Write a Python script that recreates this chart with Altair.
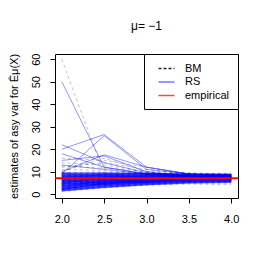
import altair as alt
import pandas as pd

x_vals = [2.0, 2.5, 3.0, 3.5, 4.0]
y_ticks = [0, 10, 20, 30, 40, 50, 60]
series_names = ["BM", "RS", "empirical"]
empirical_value = 7.1

rs_lines = [
    [50.0, 12.0, 9.0, 7.5, 7.0],
    [22.0, 14.0, 9.5, 8.0, 7.2],
    [20.0, 26.5, 12.0, 9.0, 8.0],
    [18.0, 12.0, 9.0, 8.0, 7.0],
    [9.0, 26.0, 11.0, 9.0, 8.0],
    [10.0, 17.5, 12.0, 9.0, 8.0],
    [15.0, 17.0, 10.0, 8.0, 7.0],
    [13.0, 11.0, 9.0, 8.0, 7.0],
    [1.5, 3.0, 4.2, 5.0, 5.3],
    [2.0, 3.4, 4.5, 5.3, 5.6],
    [2.4, 3.8, 4.8, 5.5, 5.8],
    [2.8, 4.1, 5.0, 5.7, 6.0],
    [3.1, 4.4, 5.3, 5.9, 6.2],
    [3.4, 4.6, 5.5, 6.1, 6.3],
    [3.7, 4.9, 5.7, 6.2, 6.5],
    [4.0, 5.1, 5.9, 6.4, 6.6],
    [4.3, 5.4, 6.1, 6.6, 6.8],
    [4.6, 5.6, 6.3, 6.7, 6.9],
    [4.9, 5.9, 6.5, 6.9, 7.0],
    [5.2, 6.1, 6.7, 7.0, 7.1],
    [5.5, 6.4, 6.9, 7.2, 7.3],
    [5.8, 6.6, 7.1, 7.3, 7.4],
    [6.1, 6.9, 7.3, 7.5, 7.5],
    [6.4, 7.1, 7.5, 7.6, 7.7],
    [6.7, 7.4, 7.7, 7.8, 7.8],
    [7.0, 7.6, 7.9, 7.9, 7.9],
    [7.3, 7.9, 8.1, 8.1, 8.0],
    [7.6, 8.1, 8.3, 8.2, 8.2],
    [7.9, 8.4, 8.5, 8.4, 8.3],
    [8.2, 8.6, 8.7, 8.5, 8.5],
    [8.6, 8.9, 8.9, 8.7, 8.6],
    [9.0, 9.2, 9.1, 8.9, 8.8],
    [9.5, 9.5, 9.3, 9.0, 8.9],
    [2.2, 5.0, 5.2, 6.6, 6.1],
    [3.0, 6.2, 6.0, 5.8, 7.2],
    [5.0, 4.2, 6.8, 6.0, 6.4],
    [6.0, 5.0, 5.6, 7.4, 6.9],
    [8.0, 6.0, 6.4, 6.9, 7.6],
    [4.5, 7.5, 7.0, 7.8, 7.0],
    [2.6, 4.8, 6.6, 7.2, 7.9],
    [7.2, 8.8, 7.2, 6.5, 6.7],
    [9.2, 7.0, 8.2, 8.0, 7.5],
    [1.8, 3.6, 5.4, 6.8, 7.4],
    [1.6, 3.2, 4.4, 5.2, 5.5],
    [2.1, 3.5, 4.6, 5.4, 5.7],
    [2.5, 3.9, 4.9, 5.6, 5.9],
    [2.9, 4.2, 5.1, 5.8, 6.1],
    [3.3, 4.5, 5.4, 6.0, 6.2],
    [3.6, 4.8, 5.6, 6.1, 6.4],
    [3.9, 5.0, 5.8, 6.3, 6.5],
    [4.2, 5.3, 6.0, 6.5, 6.7],
    [4.5, 5.5, 6.2, 6.6, 6.8],
    [4.8, 5.8, 6.4, 6.8, 6.9],
    [5.1, 6.0, 6.6, 6.9, 7.1],
    [5.4, 6.3, 6.8, 7.1, 7.2],
    [5.7, 6.5, 7.0, 7.2, 7.3],
    [6.0, 6.8, 7.2, 7.4, 7.5],
    [6.3, 7.0, 7.4, 7.5, 7.6],
    [6.6, 7.3, 7.6, 7.7, 7.7],
    [6.9, 7.5, 7.8, 7.8, 7.9],
    [7.2, 7.8, 8.0, 8.0, 8.0],
    [7.5, 8.0, 8.2, 8.1, 8.1],
    [7.8, 8.3, 8.4, 8.3, 8.2],
    [8.1, 8.5, 8.6, 8.5, 8.4],
    [8.4, 8.8, 8.8, 8.6, 8.5],
    [8.8, 9.0, 9.0, 8.8, 8.7],
    [9.3, 9.4, 9.2, 9.0, 8.9],
    [1.4, 2.9, 4.1, 4.9, 5.2],
    [3.8, 5.6, 5.0, 6.7, 5.9],
    [6.5, 4.8, 6.2, 6.3, 7.8],
    [8.4, 6.6, 5.8, 7.1, 6.6],
    [5.3, 7.9, 7.6, 6.4, 7.3],
    [9.4, 8.2, 6.8, 8.6, 8.4],
    [2.3, 4.3, 5.9, 7.6, 6.8],
]

bm_lines = [
    [60.0, 9.0, 8.0, 7.0, 6.5],
    [16.0, 15.0, 12.0, 9.0, 8.0],
    [14.0, 13.0, 10.0, 8.0, 7.0],
    [12.0, 14.0, 11.0, 9.0, 8.0],
    [10.0, 16.0, 10.0, 8.0, 7.0],
    [1.2, 2.8, 4.0, 4.5, 4.2],
    [1.8, 3.2, 4.3, 4.9, 4.8],
    [2.3, 3.6, 4.6, 5.2, 5.3],
    [2.7, 4.0, 4.9, 5.5, 5.6],
    [3.2, 4.3, 5.2, 5.8, 5.9],
    [3.6, 4.7, 5.5, 6.0, 6.1],
    [4.0, 5.0, 5.8, 6.2, 6.4],
    [4.4, 5.4, 6.0, 6.5, 6.6],
    [4.8, 5.7, 6.3, 6.7, 6.8],
    [5.2, 6.0, 6.6, 6.9, 7.0],
    [5.6, 6.4, 6.8, 7.1, 7.2],
    [6.0, 6.7, 7.1, 7.3, 7.4],
    [6.4, 7.1, 7.4, 7.5, 7.6],
    [6.8, 7.4, 7.6, 7.7, 7.8],
    [7.2, 7.8, 7.9, 7.9, 8.0],
    [7.6, 8.1, 8.2, 8.1, 8.2],
    [8.0, 8.5, 8.5, 8.3, 8.4],
    [8.5, 8.9, 8.8, 8.6, 8.6],
    [9.0, 9.3, 9.1, 8.9, 8.9],
    [9.6, 9.8, 9.5, 9.3, 9.2],
    [2.0, 5.5, 6.2, 6.0, 7.5],
    [3.5, 6.8, 5.6, 7.2, 6.2],
    [5.5, 4.5, 7.3, 6.4, 7.1],
    [7.5, 5.2, 6.1, 7.6, 5.8],
    [8.8, 6.3, 7.8, 6.8, 8.6],
    [11.0, 10.5, 9.5, 8.8, 8.1],
    [12.5, 11.5, 10.2, 9.5, 8.7],
]


def to_long(lines, name):
    rows = []
    for i, line in enumerate(lines):
        for xv, yv in zip(x_vals, line):
            rows.append({"rep": f"{name}{i}", "x": xv, "value": yv})
    return pd.DataFrame(rows)


rs_df = to_long(rs_lines, "RS")
bm_df = to_long(bm_lines, "BM")
emp_df = pd.DataFrame({"value": [empirical_value]})

FONT = "Liberation Sans"

xscale = alt.Scale(domain=[1.92, 4.08], nice=False, zero=False)
yscale = alt.Scale(domain=[-1.7, 62.3], nice=False, zero=False)

xaxis = alt.Axis(values=x_vals, format=".1f", title=None, domain=False, grid=False,
                 tickSize=5, tickColor="black", labelPadding=10, labelFontSize=11,
                 labelColor="black", labelFont=FONT)
yaxis = alt.Axis(values=y_ticks, title="estimates of asy var for Êμ(X)", domain=False, grid=False,
                 tickSize=5, tickColor="black", labelAngle=270, labelPadding=9, labelFontSize=11,
                 labelColor="black", labelFont=FONT, titleFont=FONT, titleFontSize=11,
                 titleFontWeight="normal", titleColor="black", titleAngle=270,
                 titleX=-41, titleY=72, titleAlign="center", titleBaseline="middle")

X = alt.X("x:Q", scale=xscale, axis=xaxis)
Y = alt.Y("value:Q", scale=yscale, axis=yaxis)

bm = alt.Chart(bm_df).mark_line(color="black", opacity=0.25, strokeWidth=1, strokeDash=[3, 3]).encode(
    x=X, y=Y, detail="rep:N")
rs = alt.Chart(rs_df).mark_line(color="blue", opacity=0.42, strokeWidth=1).encode(
    x=X, y=Y, detail="rep:N")
emp = alt.Chart(emp_df).mark_rule(color="red", strokeWidth=2).encode(y=Y)

legend_layer = alt.Chart(alt.Data(values=[])).mark_line().encode(
    x=X, y=Y,
    color=alt.Color("series:N", scale=alt.Scale(domain=series_names, range=["#222222", "#7777ff", "#ff4444"]),
                    legend=alt.Legend(title=None, orient="top-right", offset=0)),
    strokeDash=alt.StrokeDash("series:N", scale=alt.Scale(domain=series_names, range=[[3, 2], [1, 0], [1, 0]]),
                              legend=alt.Legend(title=None, orient="top-right", offset=0)),
)

chart = alt.layer(bm, rs, emp, legend_layer).properties(
    width=183, height=144,
    background="white",
    title=alt.TitleParams("μ= −1", font=FONT, fontSize=12, fontWeight="normal", color="black",
                          anchor="middle", offset=20),
    autosize=alt.AutoSizeParams(type="none"),
    padding={"left": 47, "top": 46, "right": 20, "bottom": 50},
).configure_view(stroke="black", strokeWidth=1).configure_legend(
    strokeColor="black", fillColor="white", padding=8, symbolType="M0,0H3", symbolSize=114,
    symbolStrokeWidth=1.6, labelFontSize=11, labelFont=FONT, labelColor="black", labelOffset=20,
    rowPadding=1.5, cornerRadius=0,
)

chart.save("out.html", embed_options={"renderer": "svg", "actions": False})
